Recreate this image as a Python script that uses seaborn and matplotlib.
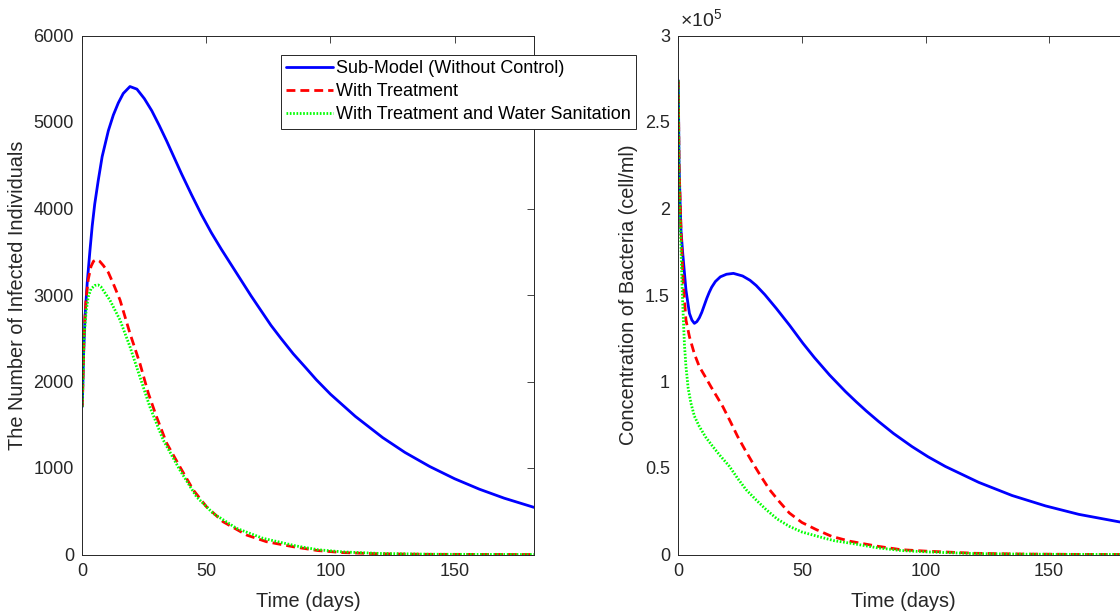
import numpy as np
import pandas as pd
import matplotlib
matplotlib.use("Agg")
import matplotlib.pyplot as plt
from matplotlib.ticker import FuncFormatter
import seaborn as sns

# === Données ===
# Individus infectés
t_inf_sans = [0, 0.5, 1.1, 2, 3.1, 4, 5, 6.4, 8, 10.5, 12.5, 14.5, 16.5, 19.2, 22, 25, 28, 31, 34, 37,
              40, 44, 48, 52, 56, 60, 64, 68, 72, 76, 80, 85, 90, 94.3, 100, 110, 121, 130, 140, 150,
              160, 170, 182]
inf_sans = [1710, 2300, 2749, 3150, 3520, 3800, 4050, 4320, 4600, 4900, 5080, 5220, 5330, 5410, 5380, 5270,
            5130, 4960, 4780, 4590, 4400, 4160, 3930, 3720, 3530, 3350, 3170, 2990, 2820, 2650, 2500,
            2320, 2160, 2020, 1853, 1597, 1352, 1180, 1017, 876, 755, 651, 545]

t_inf_trait = [0, 0.7, 1.5, 2.4, 3.5, 4.5, 5.8, 7, 8.5, 10.5, 12.5, 15.2, 19.2, 23.2, 26.6, 29.9, 34,
               39.3, 44.7, 50, 56.7, 66.2, 74.2, 84.9, 95, 105, 120, 140, 160, 182]
inf_trait = [1710, 2560, 2950, 3180, 3330, 3390, 3410, 3390, 3340, 3260, 3130, 2942, 2557, 2210, 1864,
             1593, 1286, 1015, 746, 553, 379, 225, 148, 90, 45, 22, 8, 2, 1, 0]

t_inf_eau = [0, 0.7, 1.5, 2.4, 3.5, 5, 6.4, 7.5, 9, 11.1, 15.2, 19.2, 23.2, 27.2, 32.6, 39.3, 46,
             52.7, 62.1, 72.8, 86.3, 95, 105, 120, 140, 160, 182]
inf_eau = [1710, 2500, 2800, 2980, 3070, 3110, 3116, 3095, 3030, 2942, 2711, 2402, 2055, 1709, 1324,
           977, 668, 476, 303, 187, 98, 55, 30, 12, 3, 1, 0]

# Concentration de bactéries (cell/ml)
t_bac_sans = [0, 0.3, 0.7, 1.1, 1.8, 3.1, 4.5, 5.5, 6.5, 7.5, 8.5, 9.5, 10.5, 11.5, 12.5, 13.5, 15, 17,
              19.5, 22.3, 26, 29, 31.5, 35, 39.6, 45, 50.4, 55, 61.2, 67.6, 72, 76, 81, 87, 94.5, 101,
              108, 121.5, 135, 148.5, 162, 178.2, 182]
bac_sans = [274000, 226000, 205000, 187000, 174000, 152800, 139400, 135500, 133600, 134600, 136800,
            140000, 144000, 148000, 151500, 154500, 157800, 160500, 162000, 162500, 161000, 158500,
            155500, 150200, 142300, 132500, 122100, 113900, 103700, 94200, 88200, 83000, 76900, 70000,
            62400, 56500, 50900, 41700, 34100, 28100, 23200, 18900, 18000]

t_bac_trait = [0, 0.3, 1.1, 2, 3.1, 4.5, 6.5, 8.5, 10.8, 13.2, 15.5, 18, 21, 24, 27, 30.1, 33.5, 36.9,
               40.9, 44.9, 50, 55.8, 62, 69.3, 80.4, 90, 100.7, 120, 140, 160, 182]
bac_trait = [274000, 226000, 187000, 156700, 135500, 125900, 116000, 108600, 103000, 97000, 91500,
             85500, 77000, 68200, 60500, 52900, 45000, 37500, 30500, 24000, 18500, 14400, 10500, 7700,
             4800, 2800, 1900, 700, 250, 80, 20]

t_bac_eau = [0, 0.3, 0.7, 1.1, 1.5, 2, 2.5, 3.1, 4, 5.1, 6.5, 8.5, 11, 13.9, 17, 20.7, 24, 27.4, 31.5,
             35.5, 40, 44.9, 50, 57.1, 63, 70.6, 80.4, 90, 100.7, 120, 140, 160, 182]
bac_eau = [274000, 220000, 195000, 176000, 156000, 137400, 121000, 108600, 96000, 87500, 80000, 74000,
           68000, 62500, 57000, 50900, 44000, 37500, 31500, 26000, 20500, 16300, 13000, 10200, 8000,
           6300, 3900, 2300, 1500, 500, 180, 60, 15]

noms = ["Sub-Model (Without Control)", "With Treatment", "With Treatment and Water Sanitation"]
couleurs = ["#0000ff", "#ff0000", "#00ff00"]
styles = ["-", (0, (3.2, 1.8)), (0, (0.6, 0.6))]

# === Style ===
sns.set_theme(style="white")
plt.rcParams["font.family"] = ["Liberation Sans", "DejaVu Sans"]
plt.rcParams["mathtext.fontset"] = "custom"
plt.rcParams["mathtext.rm"] = "Liberation Sans"
gris = "#262626"

fig = plt.figure(figsize=(11.2, 6.14), dpi=100)
W, H = 1120, 614
ax1 = fig.add_axes([82.3 / W, 1 - 554.5 / H, (534 - 82.3) / W, (554.5 - 35.5) / H])
ax2 = fig.add_axes([678.3 / W, 1 - 554.5 / H, 450 / W, (554.5 - 35.5) / H])

series_inf = [(t_inf_sans, inf_sans), (t_inf_trait, inf_trait), (t_inf_eau, inf_eau)]
series_bac = [(t_bac_sans, bac_sans), (t_bac_trait, bac_trait), (t_bac_eau, bac_eau)]

for ax, series in [(ax1, series_inf), (ax2, series_bac)]:
    for (t, v), nom, c, ls in zip(series, noms, couleurs, styles):
        df = pd.DataFrame({"t": t, "v": v})
        sns.lineplot(data=df, x="t", y="v", ax=ax, color=c, linestyle=ls,
                     linewidth=2.0, label=nom, legend=False, estimator=None)
    ax.set_xlim(0, 182)
    ax.set_xticks([0, 50, 100, 150])
    ax.tick_params(direction="in", top=True, right=True, length=5, width=0.6,
                   colors=gris, labelsize=13, pad=6)
    for s in ax.spines.values():
        s.set_color(gris)
        s.set_linewidth(0.7)
    ax.set_xlabel("Time (days)", fontsize=14.3, color=gris)
    ax.xaxis.set_label_coords(0.5, -0.072)

ax1.set_ylim(0, 6000)
ax1.set_yticks(range(0, 6001, 1000))
ax1.set_ylabel("The Number of Infected Individuals", fontsize=14.3, color=gris)
ax1.yaxis.set_label_coords(-0.122, 0.5)

ax2.set_ylim(0, 300000)
ax2.set_yticks(np.arange(0, 300001, 50000))
ax2.yaxis.set_major_formatter(FuncFormatter(lambda v, p: f"{v / 1e5:g}"))
ax2.set_ylabel("Concentration of Bacteria (cell/ml)", fontsize=14.3, color=gris)
ax2.yaxis.set_label_coords(-0.09, 0.5)
ax2.text(0.003, 1.008, r"$\times 10^{5}$", transform=ax2.transAxes, fontsize=14,
         color=gris, ha="left", va="bottom")

# Légende
handles, labels = ax1.get_legend_handles_labels()
leg = ax1.legend(handles, labels, loc="upper left", bbox_to_anchor=(281 / W, 1 - 55 / H),
                 bbox_transform=fig.transFigure, fontsize=13, frameon=True, fancybox=False,
                 framealpha=1, edgecolor=gris, borderpad=0.3, labelspacing=0.33,
                 handlelength=2.6, handletextpad=0.15, borderaxespad=0)
leg.get_frame().set_linewidth(0.7)
for txt in leg.get_texts():
    txt.set_color("black")

fig.savefig("out.png", dpi=100)
plt.close()
